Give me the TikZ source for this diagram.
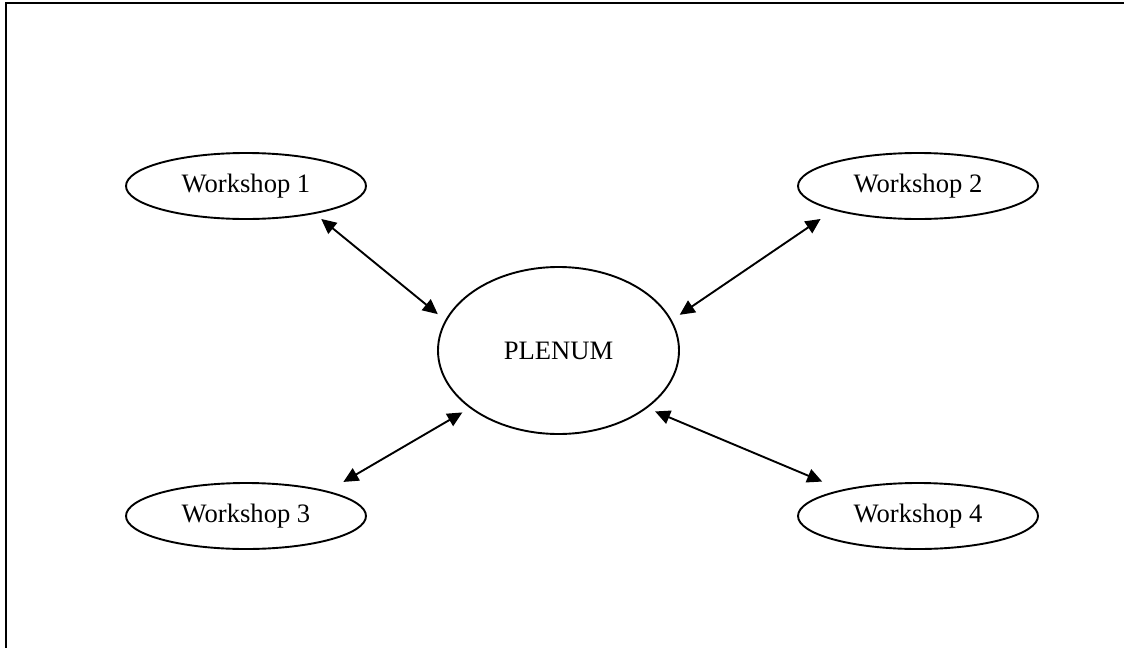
\documentclass[tikz,border=0pt]{standalone}
\usepackage{fontspec}
\setmainfont{Liberation Serif}
\usetikzlibrary{arrows.meta,shapes.geometric}

\begin{document}
\begin{tikzpicture}[x=1pt, y=-1pt, workshop/.style={ellipse,draw,line width=1.9pt,minimum width=240pt,minimum height=66pt,inner sep=0pt,font=\fontsize{26.6}{32}\selectfont}, plenum/.style={ellipse,draw,line width=1.9pt,minimum width=241pt,minimum height=167pt,inner sep=0pt,font=\fontsize{26.6}{32}\selectfont}, link/.style={line width=1.9pt,{Triangle[length=15pt,width=14pt]}-{Triangle[length=15pt,width=14pt]}}]
      \useasboundingbox (0,0) rectangle (1124,648);
      \draw[line width=2.6pt] (1124,3) -- (6,3) -- (6,648);

      \node[plenum] (p) at (558.5, 350.5) {PLENUM};
      \node[workshop] (w1) at (246, 186) {Workshop 1};
      \node[workshop] (w2) at (918, 186) {Workshop 2};
      \node[workshop] (w3) at (246, 516) {Workshop 3};
      \node[workshop] (w4) at (918, 516) {Workshop 4};

      \draw[link, shorten <=8pt, shorten >=9.5pt] (w1.-22) -- (p.165);
      \draw[link, shorten <=15.5pt, shorten >=9.5pt] (w2.-164) -- (p.15);
      \draw[link, shorten <=18pt, shorten >=8.5pt] (w3.17) -- (p.-147);
      \draw[link, shorten <=21pt, shorten >=8.5pt] (w4.161) -- (p.-33);
    \end{tikzpicture}
\end{document}
